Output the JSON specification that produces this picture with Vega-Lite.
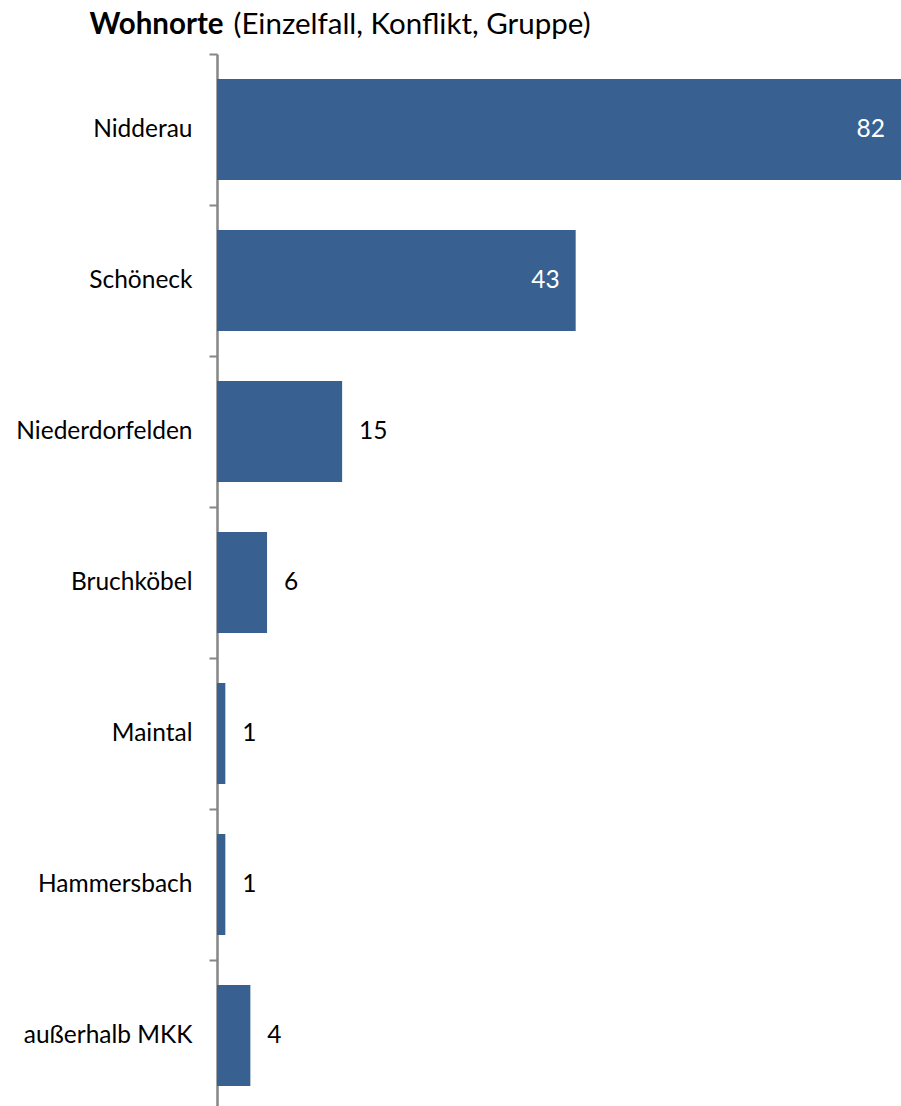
{
  "$schema": "https://vega.github.io/schema/vega-lite/v6.json",
  "autosize": {"type": "none"},
  "padding": {"left": 217, "top": 54, "right": 0, "bottom": 0},
  "width": 684,
  "height": 1052,
  "background": "white",
  "config": {"view": {"stroke": null}, "font": "Lato"},
  "data": {"values": [
    {"ort": "Nidderau", "value": 82},
    {"ort": "Schöneck", "value": 43},
    {"ort": "Niederdorfelden", "value": 15},
    {"ort": "Bruchköbel", "value": 6},
    {"ort": "Maintal", "value": 1},
    {"ort": "Hammersbach", "value": 1},
    {"ort": "außerhalb MKK", "value": 4}
  ]},
  "encoding": {
    "y": {
      "field": "ort", "type": "nominal", "sort": null,
      "scale": {"paddingInner": 0.33, "paddingOuter": 0.165, "range": [0, 1057]},
      "axis": {
        "title": "Wohnorte", "titleAngle": 0, "titleAlign": "left", "titleBaseline": "alphabetic",
        "titleX": -128, "titleY": -21, "titleFont": "Lato", "titleFontSize": 29.5, "titleFontWeight": "bold", "titleColor": "#000000",
        "tickOffset": -75.5, "labelOffset": 75.5,
        "domainColor": "#868686", "domainWidth": 2.5, "tickColor": "#868686", "tickWidth": 2, "tickSize": 8,
        "labelPadding": 17, "labelFont": "Lato", "labelFontSize": 24.5, "labelColor": "#000000", "grid": false
      }
    },
    "x": {
      "field": "value", "type": "quantitative",
      "scale": {"domain": [0, 82], "nice": false},
      "axis": {
        "orient": "top", "title": "(Einzelfall, Konflikt, Gruppe)", "titleAlign": "left", "titleAnchor": null,
        "titleX": 16, "titleY": -21, "titleBaseline": "alphabetic", "titleFont": "Lato", "titleFontSize": 29.5, "titleFontWeight": "normal", "titleColor": "#000000",
        "domain": false, "ticks": false, "labels": false, "grid": false
      }
    }
  },
  "layer": [
    {"mark": {"type": "bar", "color": "#386192"}},
    {
      "transform": [{"filter": "datum.value > 20"}],
      "mark": {"type": "text", "align": "right", "baseline": "middle", "dx": -16, "color": "#ffffff", "font": "Lato", "fontSize": 24.5},
      "encoding": {"text": {"field": "value", "type": "quantitative"}}
    },
    {
      "transform": [{"filter": "datum.value <= 20"}],
      "mark": {"type": "text", "align": "left", "baseline": "middle", "dx": 17, "color": "#000000", "font": "Lato", "fontSize": 24.5},
      "encoding": {"text": {"field": "value", "type": "quantitative"}}
    }
  ]
}
